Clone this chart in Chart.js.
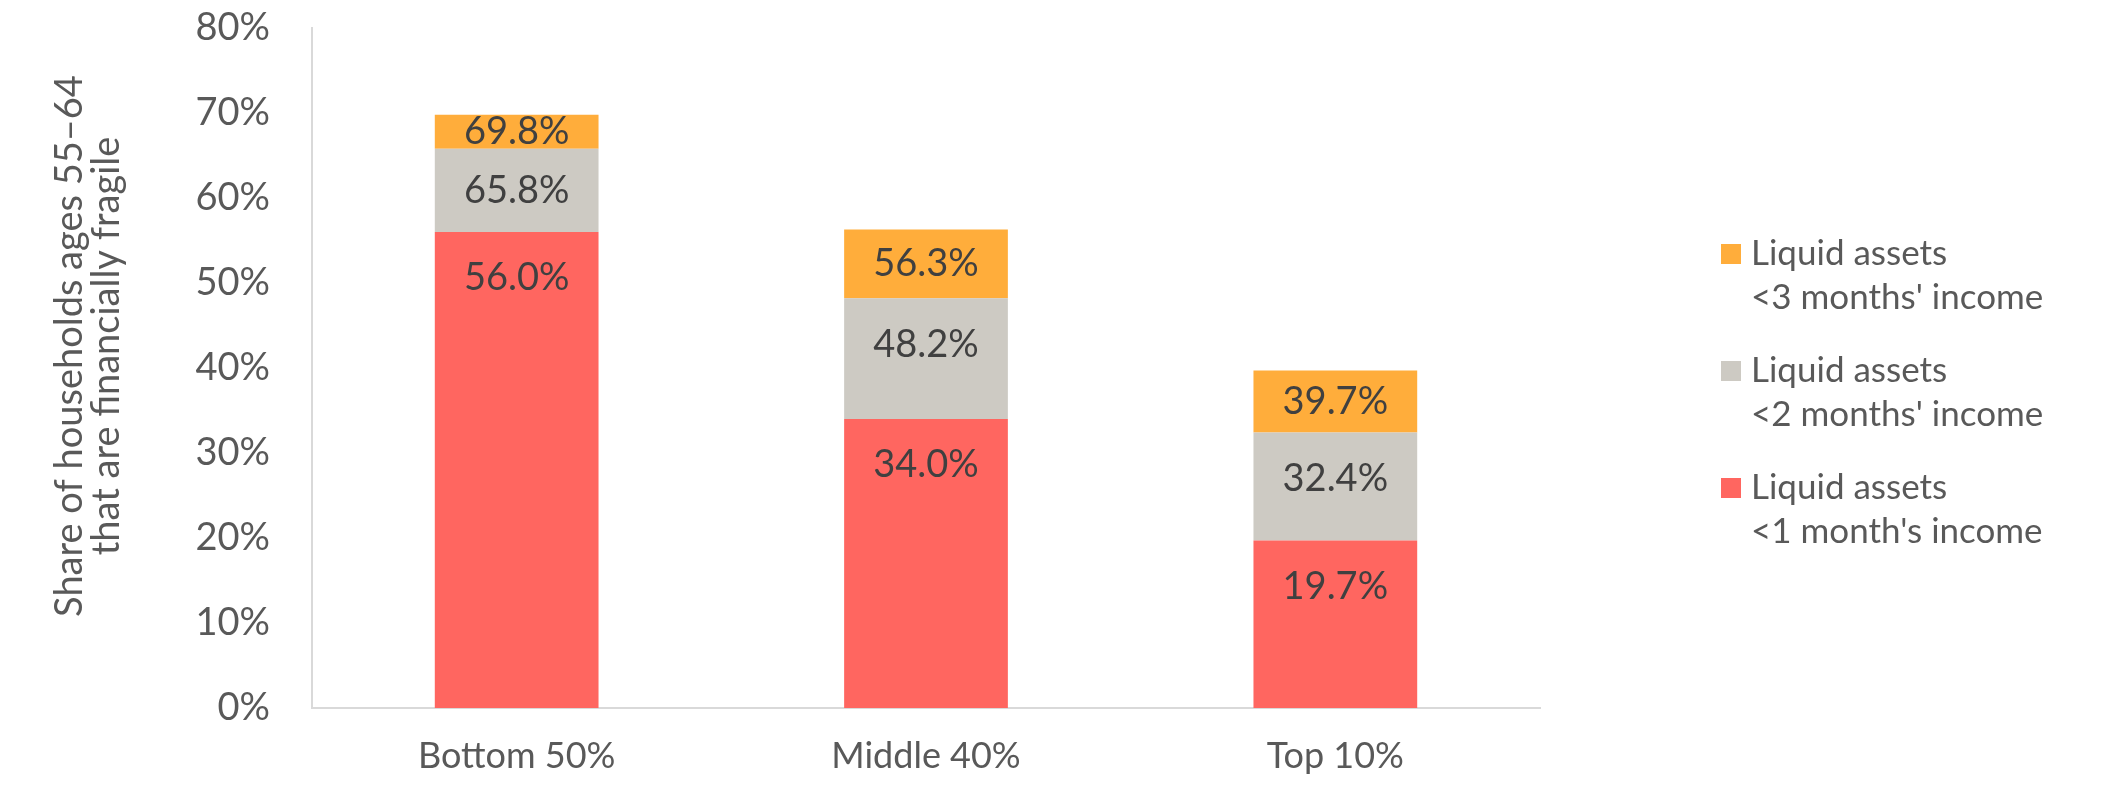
<!DOCTYPE html>
<html>
<head>
<meta charset="utf-8">
<script src="https://cdn.jsdelivr.net/npm/chart.js@4.4.0/dist/chart.umd.min.js"></script>
<style>
  html, body { margin: 0; padding: 0; background: #fff; }
  #wrap { width: 2103px; height: 792px; position: relative; }
</style>
</head>
<body>
<div id="wrap"><canvas id="chart"></canvas></div>
<script>
// groups on the x axis
const groups = ['Bottom 50%', 'Middle 40%', 'Top 10%'];
// cumulative shares as printed on the bars (percent)
const under1Month = [56.0, 34.0, 19.7];
const under2Months = [65.8, 48.2, 32.4];
const under3Months = [69.8, 56.3, 39.7];
const yTicks = [0, 10, 20, 30, 40, 50, 60, 70, 80];

const seriesNames = [
  ['Liquid assets', "<1 month's income"],
  ['Liquid assets', "<2 months' income"],
  ['Liquid assets', "<3 months' income"],
];
const yTitle = ['Share of households ages 55\u201364', 'that are financially fragile'];
const colors = ['#FF6660', '#CDCAC3', '#FFAD3B'];
const FONT = 'Lato';

// stacked pieces = difference between cumulative levels
const totals = [under1Month, under2Months, under3Months];
const pieces = totals.map((row, i) =>
  row.map((v, j) => i === 0 ? v : +(v - totals[i - 1][j]).toFixed(1)));

const barLabels = {
  id: 'barLabels',
  afterDatasetsDraw(chart) {
    const ctx = chart.ctx;
    ctx.save();
    ctx.font = '38px ' + FONT;
    ctx.fillStyle = '#404040';
    ctx.textAlign = 'center';
    ctx.textBaseline = 'middle';
    chart.data.datasets.forEach((ds, i) => {
      chart.getDatasetMeta(i).data.forEach((bar, j) => {
        const top = Math.min(bar.y, bar.base);
        const h = Math.abs(bar.base - bar.y);
        const y = i === 2 ? top + h / 2 : top + Math.min(46, h / 2);
        ctx.fillText(totals[i][j].toFixed(1) + '%', bar.x, y);
      });
    });
    ctx.restore();
  }
};

const sideLegend = {
  id: 'sideLegend',
  afterDraw(chart) {
    const ctx = chart.ctx;
    ctx.save();
    ctx.font = '35px ' + FONT;
    ctx.textBaseline = 'middle';
    // top item is the last series
    [2, 1, 0].forEach((s, k) => {
      const y0 = 254 + k * 117;
      ctx.fillStyle = colors[s];
      ctx.fillRect(1721, y0 - 10, 20, 20);
      ctx.fillStyle = '#595959';
      seriesNames[s].forEach((line, l) => ctx.fillText(line, 1751, y0 + l * 44));
    });
    // rotated y axis title
    ctx.font = '38px ' + FONT;
    ctx.textAlign = 'center';
    ctx.translate(70, 346);
    ctx.rotate(-Math.PI / 2);
    yTitle.forEach((line, l) => ctx.fillText(line, 0, l * 37));
    ctx.restore();
  }
};

new Chart(document.getElementById('chart'), {
  type: 'bar',
  data: {
    labels: groups,
    datasets: pieces.map((d, i) => ({
      label: seriesNames[i].join(' '),
      data: d,
      backgroundColor: colors[i],
      barPercentage: 0.4,
      categoryPercentage: 1.0,
    })),
  },
  options: {
    responsive: true,
    maintainAspectRatio: false,
    animation: false,
    layout: { padding: { top: 28, right: 563, bottom: 0, left: 0 } },
    plugins: { legend: { display: false }, tooltip: { enabled: false } },
    scales: {
      x: {
        stacked: true,
        grid: { display: false },
        border: { display: true, color: '#D9D9D9', width: 2 },
        ticks: { color: '#595959', font: { family: FONT, size: 36 }, padding: 19 },
        afterFit: (s) => { s.height = 84; s.paddingLeft = 0; s.paddingRight = 0; },
      },
      y: {
        stacked: true,
        min: 0,
        max: 80,
        afterBuildTicks: (s) => { s.ticks = yTicks.map(v => ({ value: v })); },
        grid: { display: false },
        border: { display: true, color: '#D9D9D9', width: 2 },
        ticks: {
          color: '#595959',
          font: { family: FONT, size: 38 },
          padding: 34,
          callback: (v) => v + '%',
        },
        afterFit: (s) => { s.width = 312; s.paddingTop = 0; s.paddingBottom = 0; },
      },
    },
  },
  plugins: [barLabels, sideLegend],
});
</script>
</body>
</html>
